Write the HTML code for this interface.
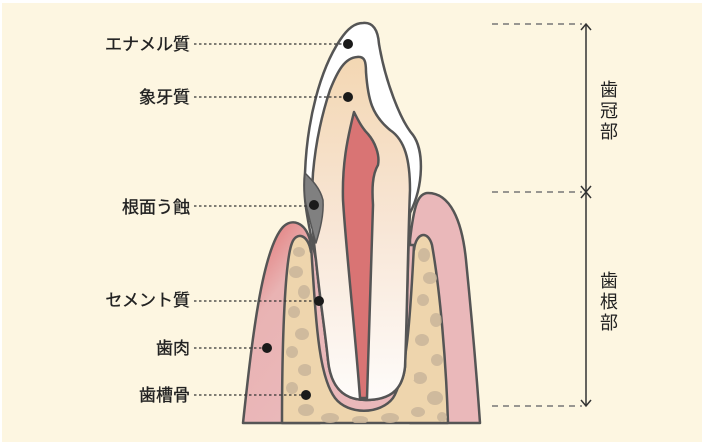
<!DOCTYPE html>
<html><head><meta charset="utf-8"><style>
html,body{margin:0;padding:0;background:#fff}
svg{display:block}
text{font-family:"Liberation Sans","Noto Sans CJK JP",sans-serif;fill:#222}
</style></head><body>
<svg width="704" height="445" viewBox="0 0 704 445" xmlns="http://www.w3.org/2000/svg">
<defs>
<linearGradient id="gum" x1="0" y1="0" x2="0.5" y2="1">
<stop offset="0" stop-color="#e06666"/><stop offset="0.45" stop-color="#e9b3b3"/><stop offset="1" stop-color="#eab8ba"/>
</linearGradient>
<linearGradient id="dent" x1="0" y1="0" x2="0" y2="1">
<stop offset="0" stop-color="#f3d7b3"/><stop offset="0.5" stop-color="#f8e6d6"/><stop offset="1" stop-color="#fefcfa"/>
</linearGradient>
<clipPath id="boneclip"><path d="M282,423 C282,340 285,260 292,243 C296,232 308,233 311,252 L311,423 Z M414,423 L414,250 C416,232 428,230 432,245 C440,290 446,360 448,423 Z M300,423 L300,380 L430,380 L430,423 Z"/></clipPath>
</defs>
<rect x="0" y="0" width="704" height="445" fill="#fff"/>
<rect x="2" y="3" width="700" height="439" fill="#fdf6e1"/>
<g stroke="#555" stroke-width="2.5" stroke-linejoin="round">
<!-- left gum -->
<path d="M243,423 C252,340 262,250 283,227 C292,218 305,222 310,240 L320,423 Z" fill="url(#gum)"/>
<!-- right gum -->
<path d="M410,240 C414,205 418,193 428,193 C450,193 462,220 466,260 C472,320 477,380 480,423 L410,423 Z" fill="#eab8ba"/>
<!-- bone -->
<path d="M282,423 C282,340 285,260 292,243 C296,232 308,233 311,252 L414,250 C416,232 428,230 432,245 C440,290 446,360 448,423 Z" fill="#eed5ad"/>
</g>
<g fill="#c9b59a" opacity="0.85" clip-path="url(#boneclip)">
<ellipse cx="299" cy="252" rx="6" ry="5"/><ellipse cx="296" cy="272" rx="7" ry="6"/><ellipse cx="304" cy="292" rx="6" ry="7"/><ellipse cx="294" cy="312" rx="6" ry="6"/><ellipse cx="302" cy="334" rx="7" ry="6"/><ellipse cx="292" cy="352" rx="6" ry="6"/><ellipse cx="305" cy="370" rx="7" ry="6"/><ellipse cx="292" cy="388" rx="6" ry="6"/><ellipse cx="306" cy="410" rx="8" ry="6"/><ellipse cx="330" cy="418" rx="9" ry="5"/><ellipse cx="360" cy="420" rx="8" ry="4"/><ellipse cx="390" cy="418" rx="9" ry="5"/>
<ellipse cx="424" cy="255" rx="6" ry="7"/><ellipse cx="430" cy="278" rx="7" ry="6"/><ellipse cx="423" cy="300" rx="6" ry="6"/><ellipse cx="436" cy="320" rx="6" ry="7"/><ellipse cx="422" cy="340" rx="7" ry="6"/><ellipse cx="437" cy="360" rx="6" ry="6"/><ellipse cx="420" cy="378" rx="7" ry="6"/><ellipse cx="435" cy="398" rx="8" ry="7"/><ellipse cx="418" cy="412" rx="7" ry="5"/><ellipse cx="442" cy="417" rx="5" ry="5"/>
</g>
<g stroke="#555" stroke-width="2.5" stroke-linejoin="round">
<!-- periodontal socket -->
<path d="M311,245 C316,320 318,375 335,398 C348,415 380,415 393,398 C408,375 411,300 414,245 Z" fill="#eab8ba"/>
<!-- enamel/tooth outer -->
<path d="M363,23 C373,22 378,30 379,44 C385,80 400,120 413,135 C424,150 424,185 410,213 C408,240 407,320 405,367 C403,385 395,400 366,400 C338,400 330,380 328,360 C325,330 320,300 316,260 C310,230 302,200 305,173 C307,120 320,70 340,40 C348,28 355,23 363,23 Z" fill="#fff"/>
<!-- dentin -->
<path d="M357,57 C365,56 366,62 366,72 C368,100 372,115 390,130 C405,140 410,160 410,190 C408,240 407,320 405,367 C403,385 395,400 366,400 C338,400 330,380 328,360 C325,330 320,300 316,260 C312,230 311,200 313,173 C315,150 320,120 330,90 C338,70 345,58 357,57 Z" fill="url(#dent)"/>
<!-- pulp -->
<path d="M354,112 C358,120 362,128 368,134 C375,142 380,155 378,165 C372,175 372,190 373,205 C372,250 369,330 367,398 L360,398 C355,330 346,250 343,200 C342,165 347,140 354,112 Z" fill="#d97474"/>
<!-- decay -->
<path d="M305,173 C312,180 320,188 323,200 C324,215 320,230 316,243 C312,230 310,220 306,205 C304,195 304,185 305,173 Z" fill="#808080" stroke-width="1.5"/>
</g>
<!-- labels -->
<g font-size="17" text-anchor="end" stroke="#222" stroke-width="0.35">
<text x="190" y="50">エナメル質</text>
<text x="190" y="103">象牙質</text>
<text x="190" y="213">根面う蝕</text>
<text x="190" y="306">セメント質</text>
<text x="190" y="354">歯肉</text>
<text x="190" y="401">歯槽骨</text>
</g>
<g stroke="#333" stroke-width="1.3" stroke-dasharray="2.5,2.5">
<line x1="194" y1="44" x2="348" y2="44"/>
<line x1="194" y1="97" x2="348" y2="97"/>
<line x1="194" y1="206" x2="314" y2="206"/>
<line x1="194" y1="301" x2="319" y2="301"/>
<line x1="194" y1="348" x2="267" y2="348"/>
<line x1="194" y1="395" x2="306" y2="395"/>
</g>
<g fill="#1a1a1a">
<circle cx="348" cy="44" r="5"/><circle cx="348" cy="97" r="5"/><circle cx="314" cy="205" r="5"/><circle cx="319" cy="301" r="5"/><circle cx="267" cy="348" r="5"/><circle cx="306" cy="395" r="5"/>
</g>
<!-- bracket -->
<g stroke="#777" stroke-width="1.5" stroke-dasharray="6,5">
<line x1="492" y1="24" x2="582" y2="24"/>
<line x1="492" y1="192" x2="582" y2="192"/>
<line x1="492" y1="406" x2="582" y2="406"/>
</g>
<g stroke="#333" stroke-width="1.5" fill="none">
<line x1="586" y1="24" x2="586" y2="406"/>
<path d="M581,30 L586,24 L591,30"/>
<path d="M581,186 L586,192 L591,186"/>
<path d="M581,198 L586,192 L591,198"/>
<path d="M581,400 L586,406 L591,400"/>
</g>
<g font-size="18" text-anchor="middle">
<text x="609" y="96">歯</text><text x="609" y="117">冠</text><text x="609" y="138">部</text>
<text x="609" y="287">歯</text><text x="609" y="308">根</text><text x="609" y="329">部</text>
</g>
</svg>
</body></html>
